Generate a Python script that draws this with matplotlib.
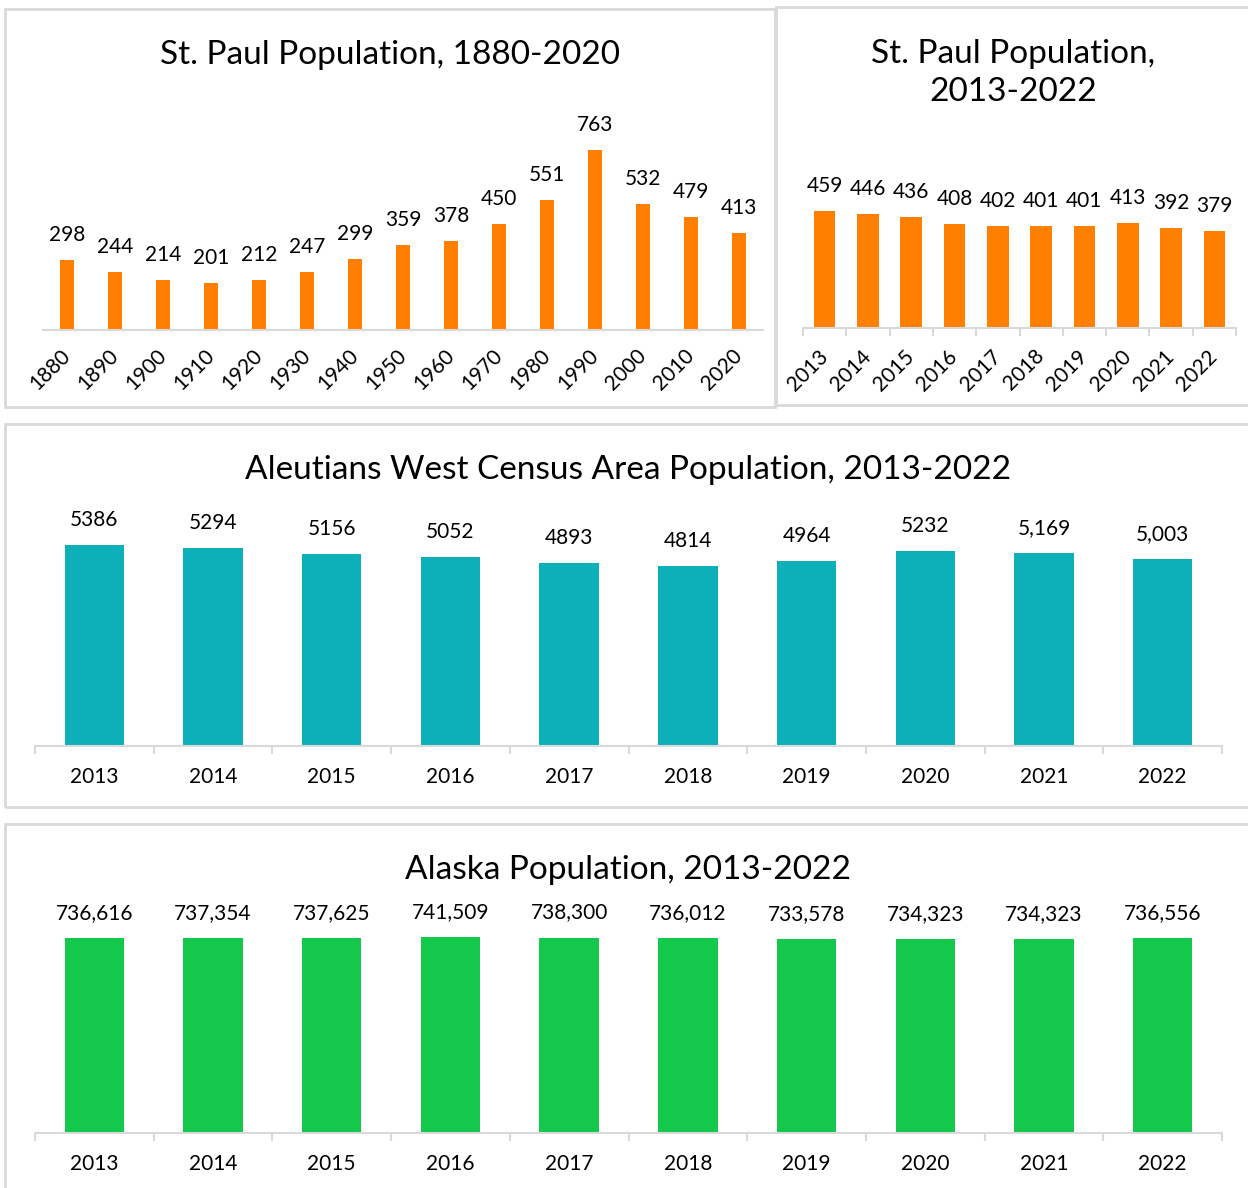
import matplotlib
matplotlib.use('Agg')
import matplotlib.pyplot as plt
from matplotlib.patches import Rectangle

plt.rcParams['font.family'] = ['Lato', 'DejaVu Sans']

# data
decades = ['1880', '1890', '1900', '1910', '1920', '1930', '1940', '1950',
           '1960', '1970', '1980', '1990', '2000', '2010', '2020']
stpaul_hist = [298, 244, 214, 201, 212, 247, 299, 359, 378, 450, 551, 763, 532, 479, 413]

years = ['2013', '2014', '2015', '2016', '2017', '2018', '2019', '2020', '2021', '2022']
stpaul_recent = [459, 446, 436, 408, 402, 401, 401, 413, 392, 379]

aleutians = [5386, 5294, 5156, 5052, 4893, 4814, 4964, 5232, 5169, 5003]
aleutians_labels = ['5386', '5294', '5156', '5052', '4893', '4814', '4964', '5232', '5,169', '5,003']

alaska = [736616, 737354, 737625, 741509, 738300, 736012, 733578, 734323, 734323, 736556]
alaska_labels = ['{:,}'.format(v) for v in alaska]

ORANGE = '#FF7F00'
TEAL = '#0DB0B8'
GREEN = '#14C84C'
GRID = '#D9D9D9'

W, H = 1248, 1188
fig = plt.figure(figsize=(W / 100, H / 100), dpi=100)


def px_axes(x0, x1, ytop, ybot):
    return fig.add_axes([x0 / W, 1 - ybot / H, (x1 - x0) / W, (ybot - ytop) / H])


def border(x0, y0, x1, y1):
    fig.patches.append(Rectangle((x0 / W, 1 - y1 / H), (x1 - x0) / W, (y1 - y0) / H,
                                 transform=fig.transFigure, fill=False,
                                 edgecolor=GRID, linewidth=2))


def setup(ax, ymax, n, boundary_ticks):
    ax.set_ylim(0, ymax)
    ax.set_xlim(-0.5, n - 0.5)
    for s in ['top', 'right', 'left']:
        ax.spines[s].set_visible(False)
    ax.spines['bottom'].set_color(GRID)
    ax.spines['bottom'].set_linewidth(1.5)
    ax.set_yticks([])
    ax.patch.set_alpha(0)
    if boundary_ticks:
        ax.set_xticks([i - 0.5 for i in range(n + 1)])
        ax.set_xticklabels([])
        ax.tick_params(axis='x', which='major', length=6, width=1.5, color=GRID)
    else:
        ax.set_xticks([])


def labels_above(ax, bars, texts):
    for b, t in zip(bars, texts):
        ax.annotate(t, (b.get_x() + b.get_width() / 2, b.get_height()),
                    xytext=(0, 18), textcoords='offset points',
                    ha='center', va='center', fontsize=15)


# panel borders
border(5, 9, 775, 407)
border(776, 7, 1260, 405)
border(5, 424, 1260, 807)
border(5, 824, 1260, 1200)

# St. Paul 1880-2020
ax1 = px_axes(43, 763, 110, 330)
setup(ax1, 763 * 220 / 180, len(decades), False)
b1 = ax1.bar(range(len(decades)), stpaul_hist, width=0.31, color=ORANGE)
labels_above(ax1, b1, [str(v) for v in stpaul_hist])
ax1.set_xticks(range(len(decades)), minor=True)
ax1.set_xticklabels(decades, minor=True, rotation=45, ha='right', va='center',
                    rotation_mode='anchor', fontsize=15)
ax1.tick_params(axis='x', which='minor', length=0, pad=16)
fig.text(390 / W, 1 - 55 / H, 'St. Paul Population, 1880-2020', ha='center', va='center', fontsize=24)

# St. Paul 2013-2022
ax2 = px_axes(803, 1236, 150, 328)
setup(ax2, 459 * 178 / 117, len(years), True)
b2 = ax2.bar(range(len(years)), stpaul_recent, width=0.5, color=ORANGE)
labels_above(ax2, b2, [str(v) for v in stpaul_recent])
ax2.set_xticks(range(len(years)), minor=True)
ax2.set_xticklabels(years, minor=True, rotation=45, ha='right', va='center',
                    rotation_mode='anchor', fontsize=15)
ax2.tick_params(axis='x', which='minor', length=0, pad=18)
fig.text(1013 / W, 1 - 73 / H, 'St. Paul Population,\n2013-2022', ha='center', va='center',
         fontsize=24, linespacing=1.3)

# Aleutians West
ax3 = px_axes(35, 1222, 500, 746)
setup(ax3, 5386 * 246 / 201, len(years), True)
b3 = ax3.bar(range(len(years)), aleutians, width=0.5, color=TEAL)
labels_above(ax3, b3, aleutians_labels)
ax3.set_xticks(range(len(years)), minor=True)
ax3.set_xticklabels(years, minor=True, fontsize=15)
ax3.tick_params(axis='x', which='minor', length=0, pad=15)
fig.text(628 / W, 1 - 470 / H, 'Aleutians West Census Area Population, 2013-2022',
         ha='center', va='center', fontsize=24)

# Alaska
ax4 = px_axes(35, 1222, 890, 1133)
setup(ax4, 736616 * 243 / 195, len(years), True)
b4 = ax4.bar(range(len(years)), alaska, width=0.5, color=GREEN)
labels_above(ax4, b4, alaska_labels)
ax4.set_xticks(range(len(years)), minor=True)
ax4.set_xticklabels(years, minor=True, fontsize=15)
ax4.tick_params(axis='x', which='minor', length=0, pad=15)
fig.text(628 / W, 1 - 870 / H, 'Alaska Population, 2013-2022', ha='center', va='center', fontsize=24)

fig.savefig('out.png', dpi=100)
